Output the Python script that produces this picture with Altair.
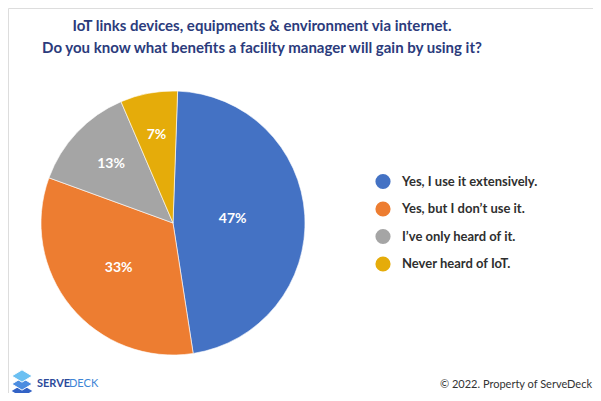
import altair as alt
import pandas as pd

categories = ["Yes, I use it extensively.", "Yes, but I don’t use it.", "I’ve only heard of it.", "Never heard of IoT."]
values = [47, 33, 13, 7]
colors = ["#4472C4", "#ED7D31", "#A5A5A5", "#E5AC0A"]
title_lines = [
    "IoT links devices, equipments & environment via internet.",
    "Do you know what benefits a facility manager will gain by using it?",
]
footer_text = "© 2022. Property of ServeDeck"
brand_a = "SERVE"
brand_b = "DECK"

df = pd.DataFrame({"category": categories, "value": values, "order": list(range(len(values)))})
df["label"] = df["value"].astype(str) + "%"

W, H = 585, 385
cx, cy, R = 165, 215, 132
TAU = 6.283185307179586
ROT = 0.035

color_scale = alt.Scale(domain=categories, range=colors)
theta_scale = alt.Scale(range=[ROT, TAU + ROT])

base = alt.Chart(df)

pie = base.mark_arc(outerRadius=R, stroke="white", strokeWidth=0.6).encode(
    theta=alt.Theta("value:Q", stack=True, scale=theta_scale),
    color=alt.Color("category:N", scale=color_scale, legend=None),
    order=alt.Order("order:Q"),
    x=alt.value(cx),
    y=alt.value(cy),
)

labels = base.transform_joinaggregate(
    total="sum(value)"
).transform_window(
    cum="sum(value)", sort=[alt.SortField("order")], frame=[None, 0]
).transform_calculate(
    mid=f"(datum.cum - datum.value / 2) / datum.total * 2 * PI + {ROT}",
    r="95 - 0.75 * datum.value",
).mark_text(
    font="Lato", fontSize=14, fontWeight="bold", color="white", align="center", baseline="middle"
).encode(
    theta=alt.Theta("mid:Q", scale=None, stack=False),
    radius=alt.Radius("r:Q", scale=None),
    text="label:N",
    x=alt.value(cx),
    y=alt.value(cy),
)

leg_y = alt.Y("category:N", scale=alt.Scale(type="point", domain=categories, range=[173.5, 256], padding=0), axis=None)

legend_dots = base.mark_point(filled=True, shape="circle", size=230, opacity=1).encode(
    x=alt.value(375),
    y=leg_y,
    color=alt.Color("category:N", scale=color_scale, legend=None),
)

legend_text = base.mark_text(
    font="Lato", fontSize=13, fontWeight="bold", color="#2F2F2F", align="left", baseline="middle"
).encode(
    x=alt.value(394),
    y=leg_y,
    text="category:N",
)

one = alt.Chart(pd.DataFrame({"k": [0]}))

title1 = one.mark_text(
    text=title_lines[0], font="Lato", fontSize=15, fontWeight="bold", color="#2B3B7C", align="center", baseline="middle"
).encode(x=alt.value(254), y=alt.value(18))
title2 = one.mark_text(
    text=title_lines[1], font="Lato", fontSize=15, fontWeight="bold", color="#2B3B7C", align="center", baseline="middle"
).encode(x=alt.value(254), y=alt.value(40))

footer = one.mark_text(
    text=footer_text, font="Lato", fontSize=11, color="#333333", align="right", baseline="middle"
).encode(x=alt.value(584), y=alt.value(377))

brand1 = one.mark_text(
    text=brand_a, font="Lato", fontSize=11, fontWeight="bold", color="#2C4A9A", align="left", baseline="middle"
).encode(x=alt.value(29), y=alt.value(376))
brand2 = one.mark_text(
    text=brand_b, font="Lato", fontSize=11, fontWeight="normal", color="#3E86D6", align="left", baseline="middle"
).encode(x=alt.value(61), y=alt.value(376))

diamond = "M-1,0 L0,-0.6 L1,0 L0,0.6 Z"
icon_bottom = one.mark_point(shape=diamond, filled=True, size=420, opacity=1, color="#3363C6").encode(
    x=alt.value(14), y=alt.value(383))
icon_mid = one.mark_point(shape=diamond, filled=True, size=420, opacity=1, color="#4C8DE0", stroke="white", strokeWidth=1).encode(
    x=alt.value(14), y=alt.value(376))
icon_top = one.mark_point(shape=diamond, filled=True, size=420, opacity=1, color="#6BC0F2", stroke="white", strokeWidth=1).encode(
    x=alt.value(14), y=alt.value(368))

chart = alt.layer(
    pie, labels, legend_dots, legend_text, title1, title2, footer, brand1, brand2,
    icon_bottom, icon_mid, icon_top,
).properties(
    width=W, height=H, autosize=alt.AutoSizeParams(type="none"), padding=0
).configure_view(stroke=None).configure(background="white")

chart.save("out.html", embed_options={"renderer": "svg", "actions": False})
